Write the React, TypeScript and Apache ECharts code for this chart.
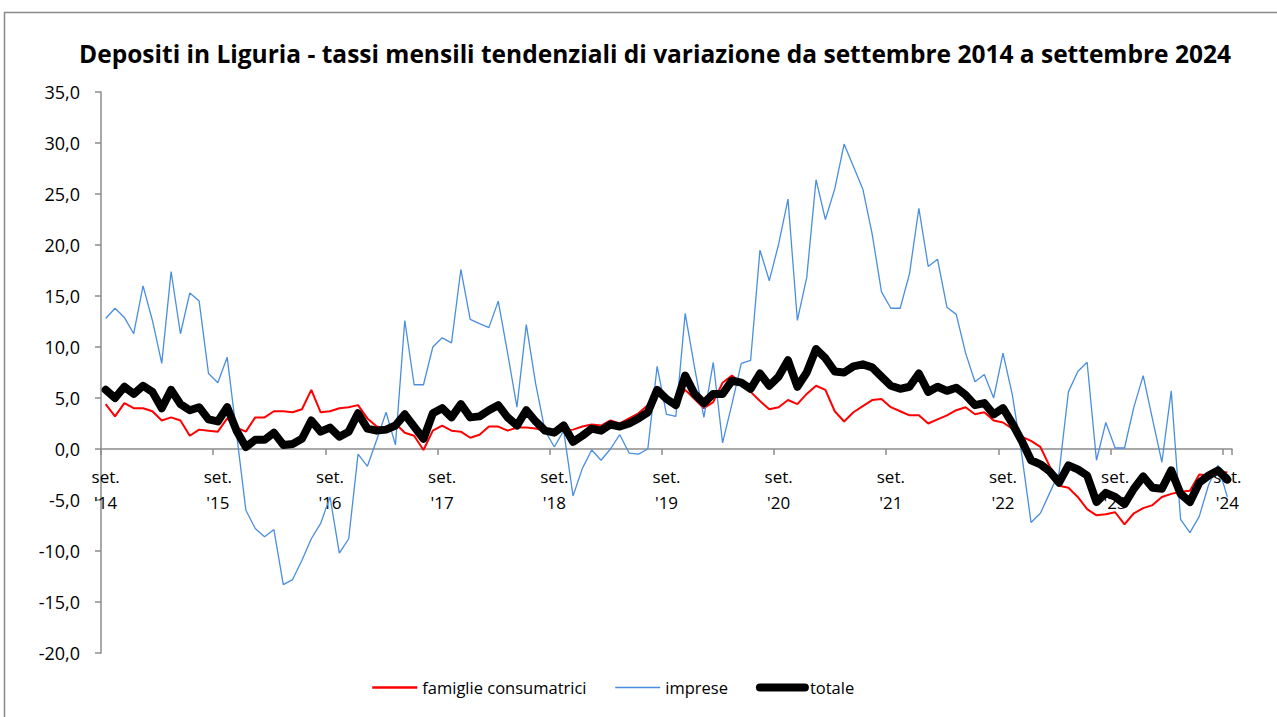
import React, { useEffect, useRef } from "react";
import * as echarts from "echarts";

const TITLE = "Depositi in Liguria - tassi mensili tendenziali di variazione da settembre 2014 a settembre 2024";
const MONTHS = ["set.", "ott.", "nov.", "dic.", "gen.", "feb.", "mar.", "apr.", "mag.", "giu.", "lug.", "ago."];
const START_YEAR = 14;
const N_MONTHS = 121;
const SERIES_NAMES = ["famiglie consumatrici", "imprese", "totale"];
const Y_MIN = -20;
const Y_MAX = 35;
const Y_STEP = 5;

const famiglie = [
  4.4, 3.2, 4.5, 4.0, 4.0, 3.7, 2.8, 3.1, 2.8, 1.3,
  1.9, 1.8, 1.7, 3.0, 2.1, 1.7, 3.1, 3.1, 3.7, 3.7,
  3.6, 3.9, 5.8, 3.6, 3.7, 4.0, 4.1, 4.3, 3.0, 2.2,
  2.0, 2.5, 1.6, 1.3, -0.1, 1.8, 2.3, 1.8, 1.7, 1.1,
  1.4, 2.2, 2.2, 1.8, 2.1, 2.1, 2.0, 1.8, 1.8, 1.8,
  1.9, 2.2, 2.4, 2.3, 2.8, 2.5, 3.0, 3.5, 4.3, 5.9,
  5.1, 4.5, 5.8, 4.9, 4.0, 4.6, 6.5, 7.2, 6.5, 5.6,
  4.7, 3.9, 4.1, 4.8, 4.4, 5.4, 6.2, 5.8, 3.7, 2.7,
  3.6, 4.2, 4.8, 4.9, 4.1, 3.7, 3.3, 3.3, 2.5, 2.9,
  3.3, 3.8, 4.1, 3.4, 3.6, 2.8, 2.6, 2.0, 1.2, 0.8,
  0.2, -1.7, -3.6, -3.8, -4.7, -5.9, -6.5, -6.4, -6.2, -7.4,
  -6.3, -5.8, -5.5, -4.7, -4.4, -4.2, -4.1, -2.5, -2.6, -2.2,
  -2.3,
];

const imprese = [
  12.8, 13.8, 12.9, 11.3, 16.0, 12.6, 8.4, 17.4, 11.3, 15.3,
  14.5, 7.4, 6.5, 9.0, 1.5, -6.0, -7.8, -8.6, -7.9, -13.3,
  -12.8, -10.9, -8.8, -7.3, -4.7, -10.2, -8.8, -0.5, -1.7, 0.9,
  3.6, 0.4, 12.6, 6.3, 6.3, 10.0, 10.9, 10.4, 17.6, 12.7,
  12.3, 11.9, 14.5, 9.4, 4.1, 12.2, 6.4, 1.8, 0.2, 1.8,
  -4.6, -1.9, -0.1, -1.1, 0.0, 1.4, -0.4, -0.5, 0.0, 8.1,
  3.4, 3.2, 13.3, 8.0, 3.1, 8.5, 0.6, 4.4, 8.4, 8.7,
  19.5, 16.5, 20.1, 24.5, 12.6, 16.8, 26.4, 22.5, 25.5, 29.9,
  27.7, 25.5, 21.1, 15.4, 13.8, 13.8, 17.2, 23.6, 17.9, 18.6,
  13.9, 13.2, 9.4, 6.6, 7.3, 5.0, 9.4, 5.3, -0.5, -7.2,
  -6.3, -4.3, -2.3, 5.6, 7.6, 8.5, -1.1, 2.6, 0.1, 0.1,
  4.1, 7.2, 2.9, -1.3, 5.7, -6.9, -8.2, -6.6, -3.5, -1.6,
  -4.7,
];

const totale = [
  5.8, 5.0, 6.1, 5.4, 6.2, 5.6, 4.0, 5.8, 4.4, 3.8,
  4.1, 2.9, 2.7, 4.1, 1.8, 0.2, 0.9, 0.9, 1.6, 0.4,
  0.5, 1.0, 2.8, 1.7, 2.1, 1.2, 1.7, 3.5, 2.0, 1.8,
  1.9, 2.3, 3.4, 2.2, 1.0, 3.5, 4.0, 3.1, 4.4, 3.1,
  3.2, 3.8, 4.3, 3.1, 2.3, 3.8, 2.7, 1.8, 1.6, 2.3,
  0.7, 1.3, 2.0, 1.8, 2.4, 2.2, 2.5, 3.0, 3.6, 5.8,
  4.9, 4.3, 7.2, 5.4, 4.5, 5.4, 5.4, 6.7, 6.5, 5.9,
  7.4, 6.2, 7.1, 8.7, 6.1, 7.5, 9.8, 8.9, 7.6, 7.5,
  8.1, 8.3, 8.0, 7.1, 6.2, 5.9, 6.1, 7.4, 5.6, 6.1,
  5.7, 6.0, 5.3, 4.3, 4.5, 3.4, 4.0, 2.5, 0.8, -1.1,
  -1.5, -2.2, -3.3, -1.6, -2.0, -2.6, -5.2, -4.3, -4.7, -5.4,
  -3.9, -2.7, -3.8, -3.9, -2.1, -4.4, -5.2, -3.3, -2.6, -2.1,
  -3.0,
];

const categories: string[] = [];
for (let i = 0; i < N_MONTHS; i++) {
  const yr = START_YEAR + Math.floor((i + 8) / 12);
  categories.push(MONTHS[i % 12] + "\n'" + String(yr));
}

const FONT = "'Open Sans', 'Noto Sans', sans-serif";
const AXIS_GRAY = "#8c8c8c";
const RED = "#ff0000";
const BLUE = "#4a8ee0";
const BLACK = "#000000";

const GRID_TOP = 92;
const GRID_BOTTOM = 64;
const CHART_H = 717;

export default function App() {
  const ref = useRef<HTMLDivElement>(null);
  useEffect(() => {
    if (!ref.current) return;
    const chart = echarts.init(ref.current, undefined, { renderer: "svg" });
    const plotH = CHART_H - GRID_TOP - GRID_BOTTOM;
    const zeroOffset = -plotH * (0 - Y_MIN) / (Y_MAX - Y_MIN);
    chart.setOption({
      animation: false,
      backgroundColor: "#ffffff",
      textStyle: { fontFamily: FONT },
      title: {
        text: TITLE,
        left: 650,
        textAlign: "center",
        top: 36,
        textStyle: { fontFamily: FONT, fontWeight: "bold", fontSize: 24.5, color: "#000" },
      },
      graphic: [
        {
          type: "rect",
          shape: { x: 4.5, y: 12.5, width: 1400, height: 900 },
          style: { fill: "none", stroke: "#8a8a8a", lineWidth: 1.5 },
          silent: true,
        },
      ],
      grid: { left: 101, right: 45, top: GRID_TOP, bottom: GRID_BOTTOM, containLabel: false },
      legend: {
        left: 366,
        top: 674,
        itemWidth: 45,
        itemHeight: 14,
        itemGap: 28,
        itemStyle: { opacity: 0 },
        textStyle: { fontFamily: FONT, fontSize: 16.5, color: "#000" },
        data: [
          { name: SERIES_NAMES[0], lineStyle: { color: RED, width: 2.5 } },
          { name: SERIES_NAMES[1], lineStyle: { color: BLUE, width: 1.5 } },
          { name: SERIES_NAMES[2], lineStyle: { color: BLACK, width: 8, cap: "round" } },
        ],
      },
      xAxis: {
        type: "category",
        data: categories,
        boundaryGap: true,
        offset: zeroOffset,
        axisLine: { onZero: false, lineStyle: { color: AXIS_GRAY, width: 1.5 } },
        axisTick: { show: true, interval: 11, length: 6, lineStyle: { color: AXIS_GRAY, width: 1.5 } },
        axisLabel: {
          interval: 11,
          fontFamily: FONT,
          fontSize: 17,
          lineHeight: 26,
          margin: 14,
          color: "#000",
        },
        splitLine: { show: false },
      },
      yAxis: {
        type: "value",
        min: Y_MIN,
        max: Y_MAX,
        interval: Y_STEP,
        axisLine: { show: true, lineStyle: { color: AXIS_GRAY, width: 1.5 } },
        axisTick: { show: true, length: 6, lineStyle: { color: AXIS_GRAY, width: 1.5 } },
        axisLabel: {
          fontFamily: FONT,
          fontSize: 18,
          margin: 21,
          color: "#000",
          formatter: (v: number) => v.toFixed(1).replace(".", ","),
        },
        splitLine: { show: false },
      },
      series: [
        {
          name: SERIES_NAMES[0],
          type: "line",
          data: famiglie,
          symbol: "none",
          lineStyle: { color: RED, width: 2 },
          itemStyle: { color: RED },
          z: 2,
        },
        {
          name: SERIES_NAMES[1],
          type: "line",
          data: imprese,
          symbol: "none",
          lineStyle: { color: BLUE, width: 1.3 },
          itemStyle: { color: BLUE },
          z: 3,
        },
        {
          name: SERIES_NAMES[2],
          type: "line",
          data: totale,
          symbol: "none",
          lineStyle: { color: BLACK, width: 8, cap: "round", join: "round" },
          itemStyle: { color: BLACK },
          z: 4,
        },
      ],
    });
    return () => chart.dispose();
  }, []);
  return (
    <div
      ref={ref}
      style={{ position: "absolute", left: 0, top: 0, width: 1277, height: 717 }}
    />
  );
}
